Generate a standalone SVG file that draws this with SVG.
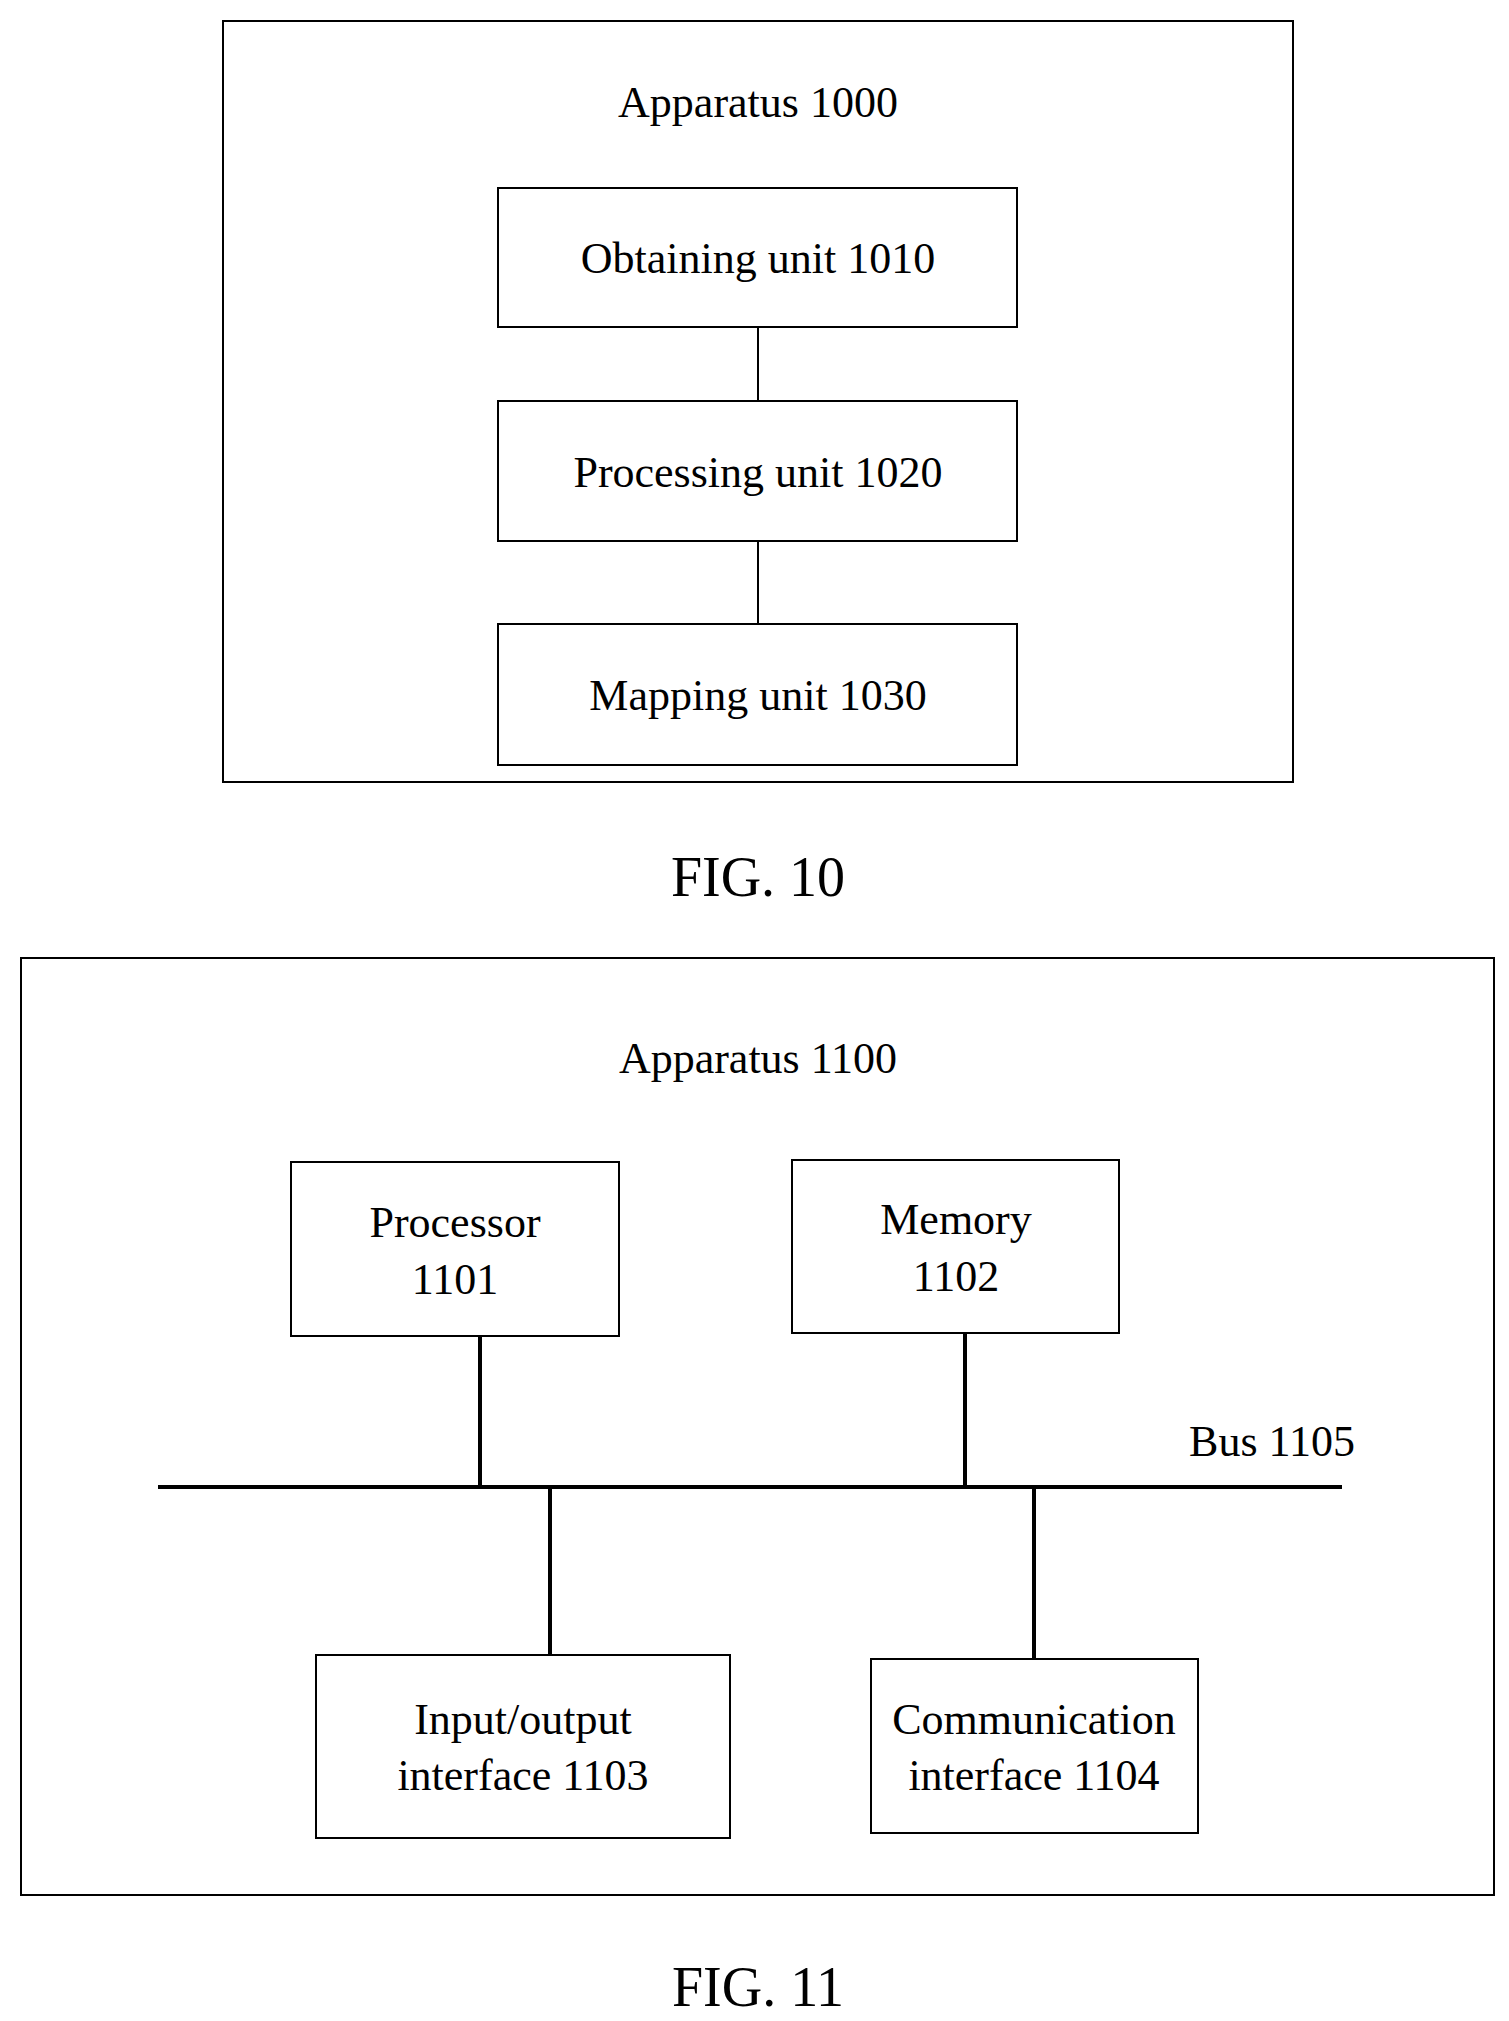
<svg xmlns="http://www.w3.org/2000/svg" width="1509" height="2021" viewBox="0 0 1509 2021">
<style>
rect{fill:none;stroke:#000;stroke-width:2}
text{font-family:"Liberation Serif",serif;font-size:44px;fill:#000;text-anchor:middle}
.fig{font-size:56px}
line{stroke:#000;stroke-width:2}
.thick{stroke-width:4}
</style>
<rect x="0" y="0" width="1509" height="2021" style="stroke:none;fill:#fff"/>
<g id="apparatus1000"><rect x="223" y="21" width="1070" height="761"/><text x="758" y="117">Apparatus 1000</text></g>
<g id="apparatus1100"><rect x="21" y="958" width="1473" height="937"/><text x="758" y="1073">Apparatus 1100</text></g>
<g id="connectors">
<line x1="758" y1="327" x2="758" y2="401"/>
<line x1="758" y1="541" x2="758" y2="624"/>
<line class="thick" x1="158" y1="1487" x2="1342" y2="1487"/>
<line class="thick" x1="480" y1="1336" x2="480" y2="1487"/>
<line class="thick" x1="965" y1="1333" x2="965" y2="1487"/>
<line class="thick" x1="550" y1="1487" x2="550" y2="1655"/>
<line class="thick" x1="1034" y1="1487" x2="1034" y2="1659"/>
</g>
<g id="obtaining"><rect x="498" y="188" width="519" height="139"/><text x="758" y="273">Obtaining unit 1010</text></g>
<g id="processing"><rect x="498" y="401" width="519" height="140"/><text x="758" y="487">Processing unit 1020</text></g>
<g id="mapping"><rect x="498" y="624" width="519" height="141"/><text x="758" y="710">Mapping unit 1030</text></g>
<text class="fig" x="758" y="896">FIG. 10</text>
<g id="processor"><rect x="291" y="1162" width="328" height="174"/><text x="455" y="1237">Processor</text><text x="455" y="1294">1101</text></g>
<g id="memory"><rect x="792" y="1160" width="327" height="173"/><text x="956" y="1234">Memory</text><text x="956" y="1291">1102</text></g>
<g id="bus"><text x="1272" y="1456">Bus 1105</text></g>
<g id="io"><rect x="316" y="1655" width="414" height="183"/><text x="523" y="1734">Input/output</text><text x="523" y="1790">interface 1103</text></g>
<g id="comm"><rect x="871" y="1659" width="327" height="174"/><text x="1034" y="1734">Communication</text><text x="1034" y="1790">interface 1104</text></g>
<text class="fig" x="758" y="2006">FIG. 11</text>
</svg>
